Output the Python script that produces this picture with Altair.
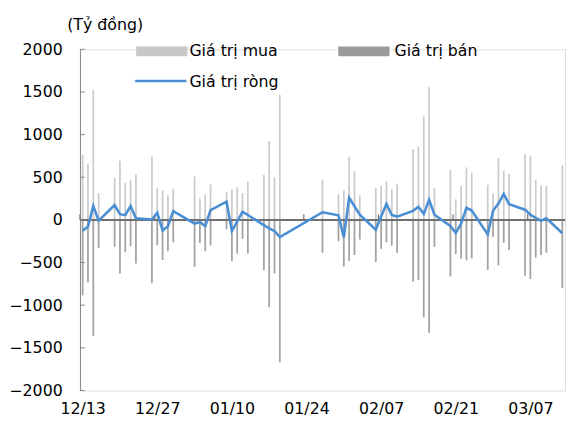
import altair as alt
import pandas as pd

# ---- data ----
dates = [
    "2022-12-13", "2022-12-14", "2022-12-15", "2022-12-16",
    "2022-12-19", "2022-12-20", "2022-12-21", "2022-12-22", "2022-12-23",
    "2022-12-26", "2022-12-27", "2022-12-28", "2022-12-29", "2022-12-30",
    "2023-01-03", "2023-01-04", "2023-01-05", "2023-01-06",
    "2023-01-09", "2023-01-10", "2023-01-11", "2023-01-12", "2023-01-13",
    "2023-01-16", "2023-01-17", "2023-01-18", "2023-01-19",
    "2023-01-27", "2023-01-30", "2023-01-31",
    "2023-02-01", "2023-02-02", "2023-02-03",
    "2023-02-06", "2023-02-07", "2023-02-08", "2023-02-09", "2023-02-10",
    "2023-02-13", "2023-02-14", "2023-02-15", "2023-02-16", "2023-02-17",
    "2023-02-20", "2023-02-21", "2023-02-22", "2023-02-23", "2023-02-24",
    "2023-02-27", "2023-02-28",
    "2023-03-01", "2023-03-02", "2023-03-03",
    "2023-03-06", "2023-03-07", "2023-03-08", "2023-03-09", "2023-03-10",
    "2023-03-13",
]
buy = [
    763, 655, 1522, 316,
    493, 694, 432, 470, 532,
    744, 378, 347, 289, 366,
    509, 250, 297, 416,
    324, 354, 381, 316, 451,
    528, 925, 501, 1464,
    474, 300, 347,
    740, 570, 290,
    378, 397, 451, 358, 424,
    832, 859, 1214, 1557, 374,
    590, 243, 397, 616, 555,
    412, 308,
    724, 578, 539,
    771, 755, 470, 401, 401,
    643,
]
sell = [
    -886, -732, -1360, -327,
    -316, -628, -378, -308, -512,
    -744, -297, -470, -366, -262,
    -551, -270, -366, -300,
    -110, -482, -397, -223, -393,
    -590, -1025, -628, -1668,
    -385, -250, -547,
    -482, -412, -230,
    -493, -339, -262, -300, -385,
    -724, -705, -1144, -1322, -316,
    -663, -400, -455, -474, -451,
    -586, -200,
    -532, -270, -354,
    -655, -694, -443, -412, -385,
    -801,
]
net = [
    -127, -77, 162, -10,
    175, 67, 56, 162, 20,
    5, 85, -125, -73, 104,
    -44, -24, -73, 116,
    214, -130, -18, 95, 58,
    -62, -98, -130, -202,
    90, 54, -205,
    260, 160, 60,
    -115, 40, 187, 58, 39,
    106, 154, 70, 237, 60,
    -71, -154, -45, 142, 110,
    -170, 108,
    192, 304, 185,
    120, 60, 23, -10, 20,
    -156,
]
y_ticks = [2000, 1500, 1000, 500, 0, -500, -1000, -1500, -2000]
x_tick_dates = ["2022-12-13", "2022-12-27", "2023-01-10", "2023-01-24",
                "2023-02-07", "2023-02-21", "2023-03-07"]
x_tick_labels = ["12/13", "12/27", "01/10", "01/24", "02/07", "02/21", "03/07"]
legend_labels = ["Giá trị mua", "Giá trị bán", "Giá trị ròng"]
unit_label = "(Tỷ đồng)"

# ---- build tables ----
start = pd.Timestamp(x_tick_dates[0])
day = [(pd.Timestamp(d) - start).days + 0.5 for d in dates]
df = pd.DataFrame({"day": day, "buy": buy, "sell": sell, "net": net})
tick_days = [(pd.Timestamp(d) - start).days for d in x_tick_dates]
ticks_df = pd.DataFrame({"day": tick_days})
ytick_df = pd.DataFrame({"v": y_ticks})

FONT = "DejaVu Sans"
FS = 16
W, H = 492, 346

xscale = alt.Scale(domain=[0, 91], nice=False, zero=False)
yscale = alt.Scale(domain=[-2000, 2000], nice=False)

label_expr = "[" + ",".join("'%s'" % s for s in x_tick_labels) + "][floor(datum.value / 14)]"

base = alt.Chart(df)

buy_bars = base.mark_rule(color="#cccccc", strokeWidth=1.8).encode(
    x=alt.X("day:Q", scale=xscale,
            axis=alt.Axis(values=[t + 0.5 for t in tick_days], labelExpr=label_expr,
                          domain=False, ticks=False, grid=False, title=None,
                          labelFontSize=FS, labelFont=FONT, labelColor="#000000",
                          labelPadding=10)),
    y=alt.Y("buy:Q", scale=yscale,
            axis=alt.Axis(values=y_ticks, format="d", domain=True, domainColor="#868686",
                          ticks=False, grid=False, title=None, labelFontSize=FS,
                          labelFont=FONT, labelColor="#000000", labelPadding=18)),
    y2=alt.datum(0),
)

sell_bars = base.mark_rule(color="#a3a3a3", strokeWidth=1.8).encode(
    x="day:Q", y="sell:Q", y2=alt.datum(0)
)

zero_line = alt.Chart(ytick_df).mark_rule(color="#707070", strokeWidth=1.5).encode(
    y=alt.datum(0)
)

x_small_ticks = alt.Chart(ticks_df).mark_rule(color="#707070", strokeWidth=1.2).encode(
    x="day:Q", y=alt.datum(0), y2=alt.datum(65)
)

y_inner_ticks = alt.Chart(ytick_df).mark_rule(color="#868686", strokeWidth=1).encode(
    x=alt.value(0), x2=alt.value(5), y="v:Q"
)

net_line = base.mark_line(color="#4a8ed4", strokeWidth=2.6).encode(
    x="day:Q", y="net:Q"
)

one = pd.DataFrame({"a": [0]})
leg_buy_sw = alt.Chart(one).mark_rect(color="#c8c8c8").encode(
    x=alt.value(57), x2=alt.value(109), y=alt.value(-3), y2=alt.value(7))
leg_sell_sw = alt.Chart(one).mark_rect(color="#9a9a9a").encode(
    x=alt.value(262), x2=alt.value(314), y=alt.value(-3), y2=alt.value(7))
leg_net_sw = alt.Chart(one).mark_rule(color="#4a8ed4", strokeWidth=2.6).encode(
    x=alt.value(56), x2=alt.value(108), y=alt.value(32))

def txt(s, x, y):
    return alt.Chart(one).mark_text(align="left", baseline="middle", font=FONT,
                                    fontSize=FS, color="#000000").encode(
        x=alt.value(x), y=alt.value(y), text=alt.value(s))

leg_texts = (txt(legend_labels[0], 111, 2) + txt(legend_labels[1], 319, 2)
             + txt(legend_labels[2], 111, 33) + txt(unit_label, -13, -25))

chart = alt.layer(
    buy_bars, sell_bars, zero_line, x_small_ticks, y_inner_ticks, net_line,
    leg_buy_sw, leg_sell_sw, leg_net_sw, leg_texts,
).properties(
    width=W, height=H,
    autosize=alt.AutoSizeParams(type="none"),
    padding={"left": 73, "top": 39, "right": 1, "bottom": 27},
).configure_view(stroke=None).configure(font=FONT)

chart.save("out.html", embed_options={"renderer": "svg", "actions": False})
